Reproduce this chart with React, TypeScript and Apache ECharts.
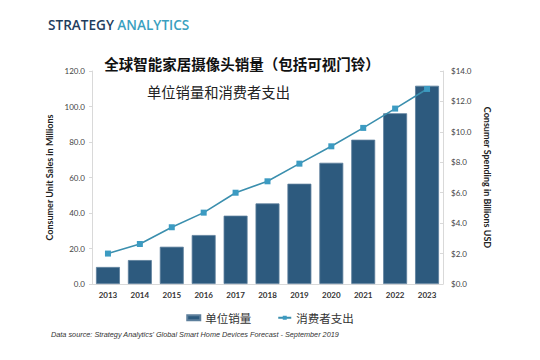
import React, { useEffect, useRef } from "react";
import * as echarts from "echarts";

const years = ["2013", "2014", "2015", "2016", "2017", "2018", "2019", "2020", "2021", "2022", "2023"];
const unitSales = [9.6, 13.5, 21.0, 27.6, 38.5, 45.4, 56.5, 68.3, 81.3, 96.2, 111.7];
const spending = [2.0, 2.63, 3.73, 4.69, 6.0, 6.75, 7.91, 9.05, 10.26, 11.53, 12.82];
const leftTicks = { min: 0, max: 120, interval: 20 };
const rightTicks = { min: 0, max: 14, interval: 2 };

const CJK = '"Noto Sans CJK SC", "Noto Sans", sans-serif';
const LAT = 'Lato, "Open Sans", sans-serif';

export default function App() {
  const ref = useRef<HTMLDivElement>(null);
  useEffect(() => {
    const chart = echarts.init(ref.current!, undefined, { renderer: "svg" });
    chart.setOption({
      animation: false,
      backgroundColor: "#ffffff",
      title: {
        text: "全球智能家居摄像头销量（包括可视门铃）",
        left: 237,
        top: 51,
        textAlign: "center",
        textStyle: { fontFamily: CJK, fontSize: 14.5, fontWeight: "bold", color: "#111" },
      },
      graphic: [
        {
          type: "text",
          left: 48,
          top: 17,
          style: {
            text: "{a|STRATEGY} {b|ANALYTICS}",
            rich: {
              a: { fontFamily: '"Open Sans", sans-serif', fontSize: 13.6, fontWeight: 600, fill: "#1f3d5e" },
              b: { fontFamily: '"Open Sans", sans-serif', fontSize: 13.6, fontWeight: 600, fill: "#3a9fc0" },
            },
          },
        },
        {
          type: "text",
          left: 147,
          top: 84,
          style: { text: "单位销量和消费者支出", fontFamily: CJK, fontSize: 14.3, fill: "#222" },
        },
        {
          type: "text",
          left: 51,
          top: 331,
          style: {
            text: "Data source: Strategy Analytics' Global Smart Home Devices Forecast - September 2019",
            fontFamily: '"Liberation Sans", Arial, sans-serif',
            fontStyle: "italic",
            fontSize: 7.3,
            fill: "#333",
          },
        },
      ],
      legend: {
        left: "center",
        top: 307,
        itemGap: 26,
        itemWidth: 13,
        itemHeight: 5,
        textStyle: { fontFamily: CJK, fontSize: 11.5, color: "#333" },
        data: [
          { name: "单位销量", icon: "rect" },
          { name: "消费者支出" },
        ],
      },
      grid: { left: 92, right: 97, top: 71, bottom: 76 },
      xAxis: {
        type: "category",
        data: years,
        axisLine: { lineStyle: { color: "#d9d9d9" } },
        axisTick: { show: false },
        axisLabel: { fontFamily: LAT, fontSize: 8, fontWeight: "bold", color: "#333", margin: 7 },
      },
      yAxis: [
        {
          type: "value",
          ...leftTicks,
          name: "Consumer Unit Sales in Millions",
          nameLocation: "middle",
          nameRotate: 90,
          nameGap: 38,
          nameTextStyle: { fontFamily: LAT, fontSize: 9, fontWeight: "bold", color: "#222" },
          axisLine: { show: true, lineStyle: { color: "#d9d9d9" } },
          axisTick: { show: true, length: 3, lineStyle: { color: "#d9d9d9" } },
          splitLine: { show: false },
          axisLabel: {
            fontFamily: LAT,
            fontSize: 8,
            color: "#444",
            margin: 7,
            formatter: (v: number) => v.toFixed(1),
          },
        },
        {
          type: "value",
          ...rightTicks,
          name: "Consumer Spending in Billions USD",
          nameLocation: "middle",
          nameRotate: -90,
          nameGap: 40,
          nameTextStyle: { fontFamily: LAT, fontSize: 9, fontWeight: "bold", color: "#222" },
          axisLine: { show: true, lineStyle: { color: "#d9d9d9" } },
          axisTick: { show: true, inside: true, length: 3, lineStyle: { color: "#d9d9d9" } },
          splitLine: { show: false },
          axisLabel: {
            fontFamily: LAT,
            fontSize: 8,
            color: "#444",
            margin: 8,
            formatter: (v: number) => "$" + v.toFixed(1),
          },
        },
      ],
      series: [
        {
          name: "单位销量",
          type: "bar",
          data: unitSales,
          barCategoryGap: "25%",
          itemStyle: { color: "#2d5a7e", borderColor: "#5d7f9c", borderWidth: 0.8 },
        },
        {
          name: "消费者支出",
          type: "line",
          yAxisIndex: 1,
          data: spending,
          symbol: "rect",
          symbolSize: 6,
          lineStyle: { color: "#3b8fae", width: 1.6 },
          itemStyle: { color: "#3c9bc2" },
        },
      ],
    });
    return () => chart.dispose();
  }, []);
  return <div ref={ref} style={{ width: 540, height: 360, position: "absolute", left: 0, top: 0 }} />;
}
